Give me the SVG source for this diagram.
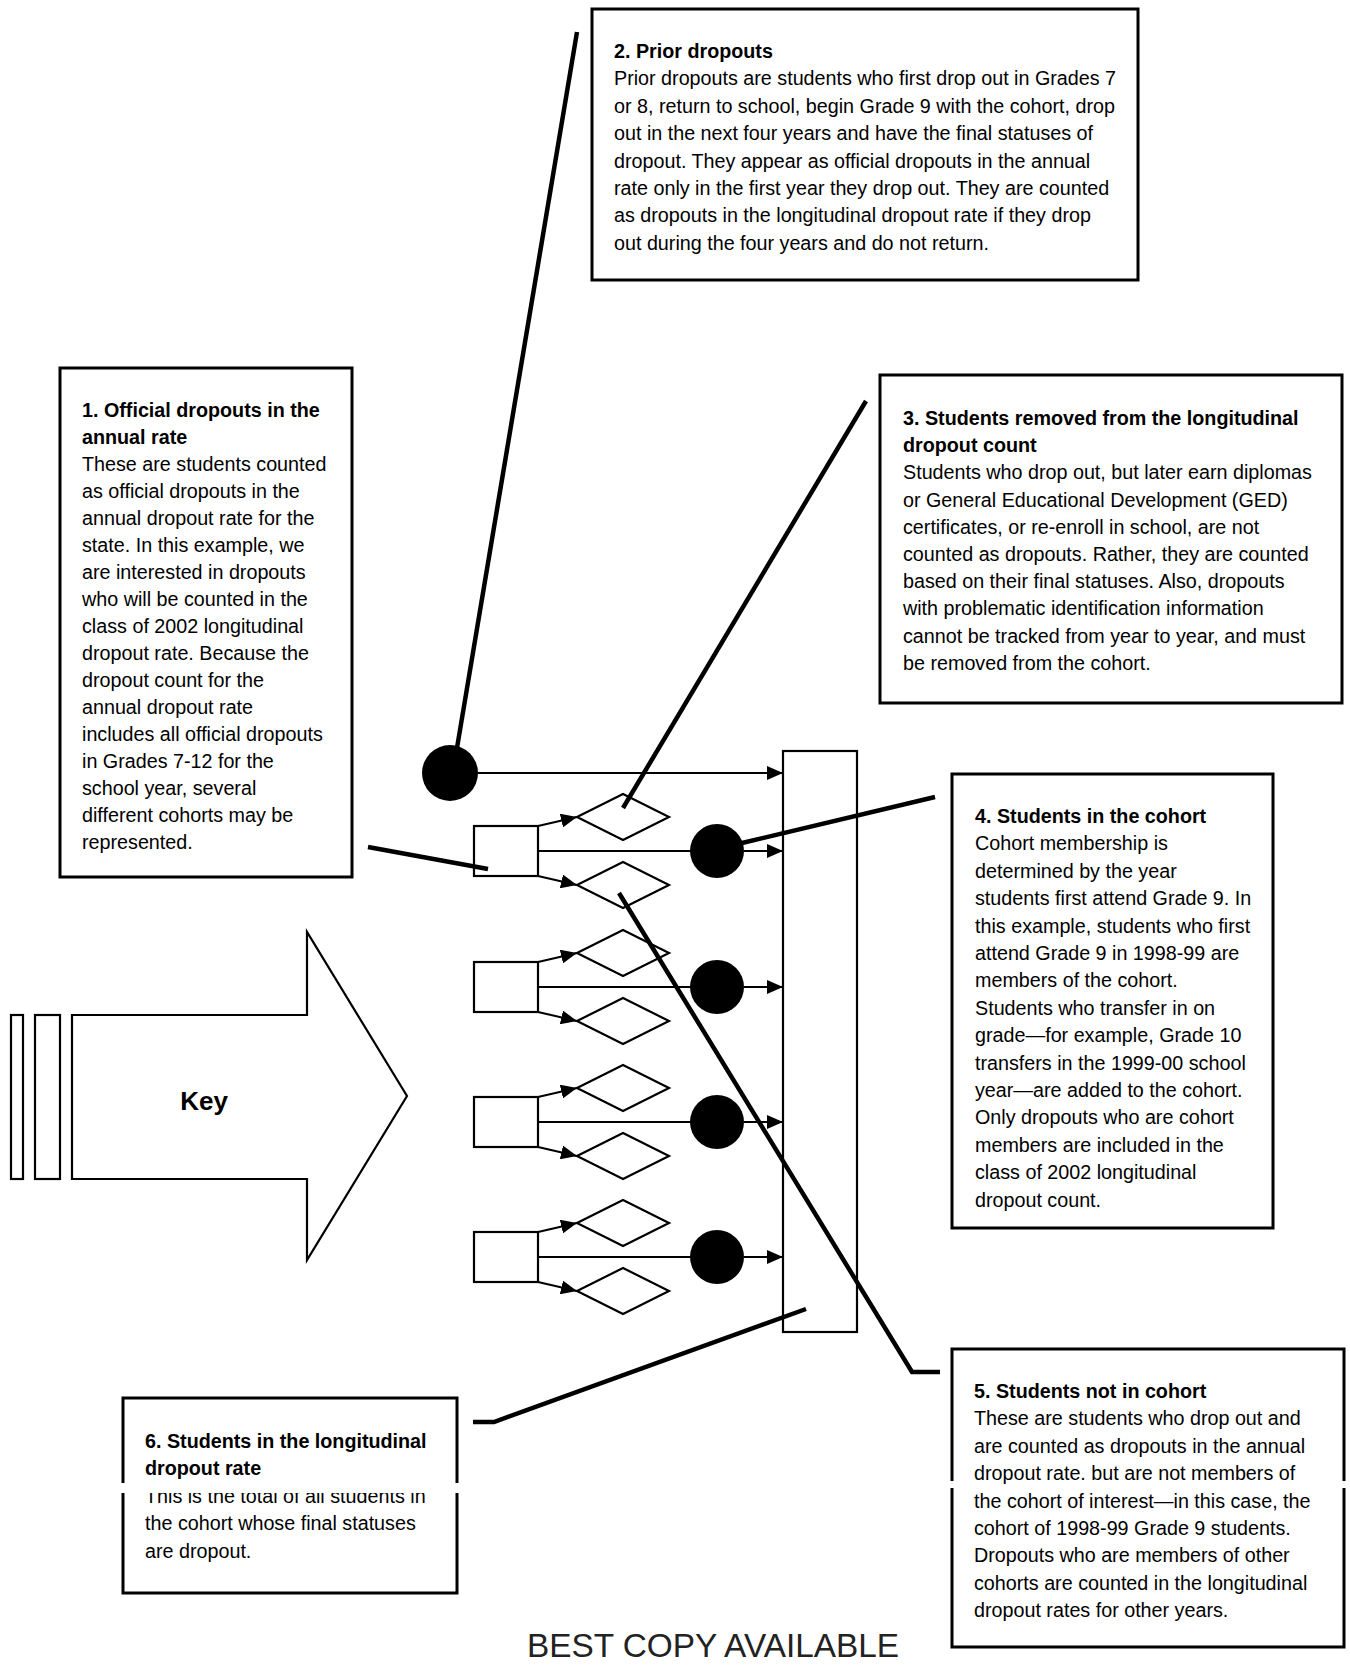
<svg xmlns="http://www.w3.org/2000/svg" width="1350" height="1666" viewBox="0 0 1350 1666">
<defs>
<marker id="ah" markerUnits="userSpaceOnUse" markerWidth="16" markerHeight="14" refX="16" refY="7" orient="auto">
<path d="M0,0 L16,7 L0,14 z" fill="#000"/>
</marker>
<style>
.box{fill:#fff;stroke:#000;stroke-width:3}
.t{font-family:"Liberation Sans",Arial,sans-serif;font-size:21px;fill:#000}
.b{font-weight:bold}
.thin{fill:none;stroke:#000;stroke-width:2}
.lead{fill:none;stroke:#000;stroke-width:4.5}
.sq{fill:#fff;stroke:#000;stroke-width:2.2}
.dot{fill:#000}
.gap{fill:#fff}
</style>
</defs>
<rect width="1350" height="1666" fill="#fff"/>

<g id="box2">
<rect class="box" x="592" y="9" width="546" height="271"/>
<text class="t" transform="translate(614,58) scale(0.94,1)"><tspan x="0" class="b">2. Prior dropouts</tspan><tspan x="0" dy="27.4">Prior dropouts are students who first drop out in Grades 7</tspan><tspan x="0" dy="27.4">or 8, return to school, begin Grade 9 with the cohort, drop</tspan><tspan x="0" dy="27.4">out in the next four years and have the final statuses of</tspan><tspan x="0" dy="27.4">dropout. They appear as official dropouts in the annual</tspan><tspan x="0" dy="27.4">rate only in the first year they drop out. They are counted</tspan><tspan x="0" dy="27.4">as dropouts in the longitudinal dropout rate if they drop</tspan><tspan x="0" dy="27.4">out during the four years and do not return.</tspan></text>
</g>

<g id="box1">
<rect class="box" x="60" y="368" width="292" height="509"/>
<text class="t" transform="translate(82,417) scale(0.94,1)"><tspan x="0" class="b">1. Official dropouts in the</tspan><tspan x="0" dy="27" class="b">annual rate</tspan><tspan x="0" dy="27">These are students counted</tspan><tspan x="0" dy="27">as official dropouts in the</tspan><tspan x="0" dy="27">annual dropout rate for the</tspan><tspan x="0" dy="27">state. In this example, we</tspan><tspan x="0" dy="27">are interested in dropouts</tspan><tspan x="0" dy="27">who will be counted in the</tspan><tspan x="0" dy="27">class of 2002 longitudinal</tspan><tspan x="0" dy="27">dropout rate. Because the</tspan><tspan x="0" dy="27">dropout count for the</tspan><tspan x="0" dy="27">annual dropout rate</tspan><tspan x="0" dy="27">includes all official dropouts</tspan><tspan x="0" dy="27">in Grades 7-12 for the</tspan><tspan x="0" dy="27">school year, several</tspan><tspan x="0" dy="27">different cohorts may be</tspan><tspan x="0" dy="27">represented.</tspan></text>
</g>

<g id="box3">
<rect class="box" x="880" y="375" width="462" height="328"/>
<text class="t" transform="translate(903,425) scale(0.94,1)"><tspan x="0" class="b">3. Students removed from the longitudinal</tspan><tspan x="0" dy="27.2" class="b">dropout count</tspan><tspan x="0" dy="27.2">Students who drop out, but later earn diplomas</tspan><tspan x="0" dy="27.2">or General Educational Development (GED)</tspan><tspan x="0" dy="27.2">certificates, or re-enroll in school, are not</tspan><tspan x="0" dy="27.2">counted as dropouts. Rather, they are counted</tspan><tspan x="0" dy="27.2">based on their final statuses. Also, dropouts</tspan><tspan x="0" dy="27.2">with problematic identification information</tspan><tspan x="0" dy="27.2">cannot be tracked from year to year, and must</tspan><tspan x="0" dy="27.2">be removed from the cohort.</tspan></text>
</g>

<g id="box4">
<rect class="box" x="952" y="774" width="321" height="454"/>
<text class="t" transform="translate(975,823) scale(0.94,1)"><tspan x="0" class="b">4. Students in the cohort</tspan><tspan x="0" dy="27.4">Cohort membership is</tspan><tspan x="0" dy="27.4">determined by the year</tspan><tspan x="0" dy="27.4">students first attend Grade 9. In</tspan><tspan x="0" dy="27.4">this example, students who first</tspan><tspan x="0" dy="27.4">attend Grade 9 in 1998-99 are</tspan><tspan x="0" dy="27.4">members of the cohort.</tspan><tspan x="0" dy="27.4">Students who transfer in on</tspan><tspan x="0" dy="27.4">grade—for example, Grade 10</tspan><tspan x="0" dy="27.4">transfers in the 1999-00 school</tspan><tspan x="0" dy="27.4">year—are added to the cohort.</tspan><tspan x="0" dy="27.4">Only dropouts who are cohort</tspan><tspan x="0" dy="27.4">members are included in the</tspan><tspan x="0" dy="27.4">class of 2002 longitudinal</tspan><tspan x="0" dy="27.4">dropout count.</tspan></text>
</g>

<g id="box5">
<rect class="box" x="952" y="1349" width="392" height="298"/>
<text class="t" transform="translate(974,1398) scale(0.94,1)"><tspan x="0" class="b">5. Students not in cohort</tspan><tspan x="0" dy="27.4">These are students who drop out and</tspan><tspan x="0" dy="27.4">are counted as dropouts in the annual</tspan><tspan x="0" dy="27.4">dropout rate. but are not members of</tspan><tspan x="0" dy="27.4">the cohort of interest—in this case, the</tspan><tspan x="0" dy="27.4">cohort of 1998-99 Grade 9 students.</tspan><tspan x="0" dy="27.4">Dropouts who are members of other</tspan><tspan x="0" dy="27.4">cohorts are counted in the longitudinal</tspan><tspan x="0" dy="27.4">dropout rates for other years.</tspan></text>
<rect class="gap" x="946" y="1481" width="12" height="7"/>
<rect class="gap" x="1338" y="1481" width="12" height="7"/>
</g>

<g id="box6">
<rect class="box" x="123" y="1398" width="334" height="195"/>
<text class="t" transform="translate(145,1448) scale(0.94,1)"><tspan x="0" class="b">6. Students in the longitudinal</tspan><tspan x="0" dy="27.5" class="b">dropout rate</tspan><tspan x="0" dy="27.5">This is the total of all students in</tspan><tspan x="0" dy="27.5">the cohort whose final statuses</tspan><tspan x="0" dy="27.5">are dropout.</tspan></text>
<rect class="gap" x="117" y="1483" width="346" height="10"/>
</g>

<g id="key">
<rect class="sq" x="11" y="1015" width="12" height="164"/>
<rect class="sq" x="35" y="1015" width="25" height="164"/>
<polygon class="sq" stroke-width="2.6" points="72,1015 307,1015 307,932 407,1096 307,1260 307,1179 72,1179"/>
<text x="204" y="1110" text-anchor="middle" font-family="Liberation Sans, Arial, sans-serif" font-size="26" font-weight="bold">Key</text>
</g>

<g id="cohort-bar">
<rect class="sq" x="783" y="751" width="74" height="581"/>
</g>

<g id="connectors">
<line class="thin" x1="478" y1="773" x2="783" y2="773" marker-end="url(#ah)"/>
<line class="thin" x1="538" y1="851" x2="692" y2="851"/>
<line class="thin" x1="744" y1="851" x2="783" y2="851" marker-end="url(#ah)"/>
<line class="thin" x1="538" y1="826" x2="577" y2="817" marker-end="url(#ah)"/>
<line class="thin" x1="538" y1="876" x2="577" y2="885" marker-end="url(#ah)"/>
<line class="thin" x1="538" y1="987" x2="692" y2="987"/>
<line class="thin" x1="744" y1="987" x2="783" y2="987" marker-end="url(#ah)"/>
<line class="thin" x1="538" y1="962" x2="577" y2="953" marker-end="url(#ah)"/>
<line class="thin" x1="538" y1="1012" x2="577" y2="1021" marker-end="url(#ah)"/>
<line class="thin" x1="538" y1="1122" x2="692" y2="1122"/>
<line class="thin" x1="744" y1="1122" x2="783" y2="1122" marker-end="url(#ah)"/>
<line class="thin" x1="538" y1="1097" x2="577" y2="1088" marker-end="url(#ah)"/>
<line class="thin" x1="538" y1="1147" x2="577" y2="1156" marker-end="url(#ah)"/>
<line class="thin" x1="538" y1="1257" x2="692" y2="1257"/>
<line class="thin" x1="744" y1="1257" x2="783" y2="1257" marker-end="url(#ah)"/>
<line class="thin" x1="538" y1="1232" x2="577" y2="1223" marker-end="url(#ah)"/>
<line class="thin" x1="538" y1="1282" x2="577" y2="1291" marker-end="url(#ah)"/>
</g>

<g id="prior-dropout-dot"><circle class="dot" cx="450" cy="773" r="28"/></g>

<g id="group1">
<rect class="sq" x="474" y="826" width="64" height="50"/>
<polygon class="sq" points="577,817 623,794 669,817 623,840"/>
<polygon class="sq" points="577,885 623,862 669,885 623,908"/>
<circle class="dot" cx="717" cy="851" r="27"/>
</g>
<g id="group2">
<rect class="sq" x="474" y="962" width="64" height="50"/>
<polygon class="sq" points="577,953 623,930 669,953 623,976"/>
<polygon class="sq" points="577,1021 623,998 669,1021 623,1044"/>
<circle class="dot" cx="717" cy="987" r="27"/>
</g>
<g id="group3">
<rect class="sq" x="474" y="1097" width="64" height="50"/>
<polygon class="sq" points="577,1088 623,1065 669,1088 623,1111"/>
<polygon class="sq" points="577,1156 623,1133 669,1156 623,1179"/>
<circle class="dot" cx="717" cy="1122" r="27"/>
</g>
<g id="group4">
<rect class="sq" x="474" y="1232" width="64" height="50"/>
<polygon class="sq" points="577,1223 623,1200 669,1223 623,1246"/>
<polygon class="sq" points="577,1291 623,1268 669,1291 623,1314"/>
<circle class="dot" cx="717" cy="1257" r="27"/>
</g>

<g id="leaders">
<line class="lead" x1="577" y1="32" x2="457" y2="748"/>
<line class="lead" x1="866" y1="401" x2="623" y2="808"/>
<line class="lead" x1="368" y1="847" x2="488" y2="869"/>
<line class="lead" x1="935" y1="797" x2="742" y2="843"/>
<polyline class="lead" points="619,893 912,1372 940,1372"/>
<polyline class="lead" points="473,1422 494,1422 806,1309"/>
</g>

<text x="527" y="1657" font-family="Liberation Sans, Arial, sans-serif" font-size="33" fill="#222" textLength="372" lengthAdjust="spacingAndGlyphs">BEST COPY AVAILABLE</text>
</svg>
